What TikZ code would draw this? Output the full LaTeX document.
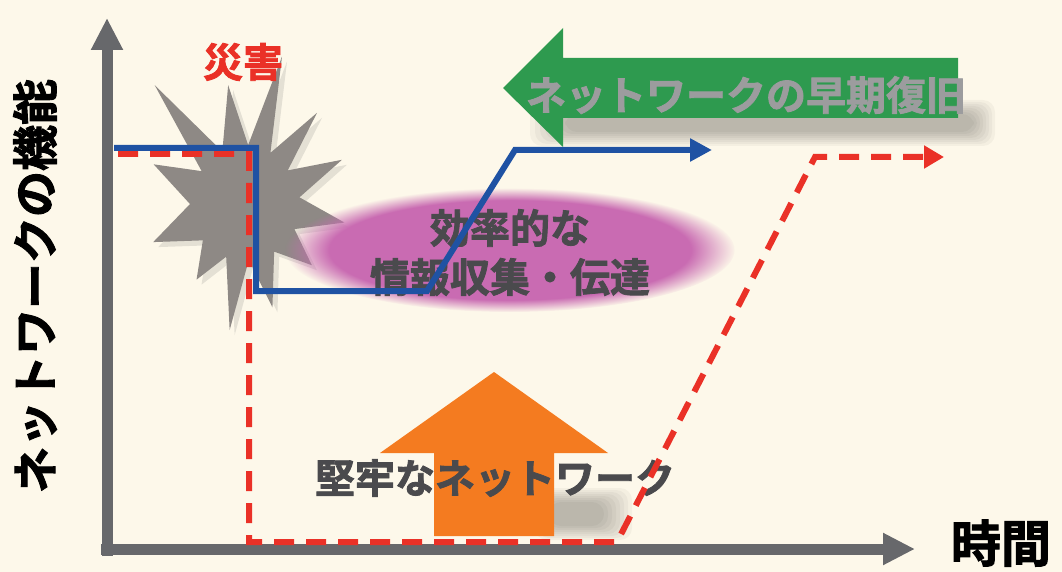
\documentclass[tikz,border=0pt]{standalone}
\usepackage{fontspec}
\newfontfamily\jp{Noto Sans CJK JP}[BoldFont=* Bold,BoldFeatures={FakeBold=2}]
\usepackage{tikz}
\usetikzlibrary{arrows.meta,positioning,calc,fadings,shadows}

\definecolor{paper}{HTML}{FDF8EA}
\definecolor{axisgray}{HTML}{67686B}
\definecolor{lineblue}{HTML}{1F52A3}
\definecolor{dashred}{HTML}{EA3127}
\definecolor{leafgreen}{HTML}{2E9A4F}
\definecolor{boltorange}{HTML}{F47B20}
\definecolor{bubblepink}{HTML}{C96BB2}
\definecolor{inkgray}{HTML}{4A4A4D}
\definecolor{stargray}{HTML}{8E8985}
\definecolor{labelgray}{HTML}{9C9C9E}

\begin{document}
\begin{tikzpicture}[x=1pt,y=-1pt,
  axis/.style={draw=axisgray,line width=11pt,-{Triangle[width=30pt,length=32pt]}},
  fast/.style={draw=lineblue,line width=6pt,-{Triangle[width=22pt,length=22pt]}},
  slow/.style={draw=dashred,line width=6pt,dash pattern=on 20pt off 12pt,-{Triangle[width=22pt,length=20pt]}},
  big/.style={font=\jp\bfseries\fontsize{40}{40}\selectfont,inner sep=0pt},
  ink/.style={big,text=inkgray},
  soft/.style={fill=black,opacity=.035,rounded corners=12pt}]
\useasboundingbox (0,0) rectangle (1062,572);
\fill[paper] (0,0) rectangle (1062,572);

% burst behind the drop
\coordinate (c) at (245,205);
\fill[stargray,drop shadow={shadow xshift=5pt,shadow yshift=-5pt,opacity=.2}]
  ($(c)+(10:101)$) -- ($(c)+(26:55)$) -- ($(c)+(42:90)$) -- ($(c)+(58:55)$)
  -- ($(c)+(75:106)$) -- ($(c)+(86:55)$) -- ($(c)+(97:126)$) -- ($(c)+(110:55)$)
  -- ($(c)+(123:89)$) -- ($(c)+(140:55)$) -- ($(c)+(158:99)$) -- ($(c)+(181:55)$)
  -- ($(c)+(204:100)$) -- ($(c)+(218:55)$) -- ($(c)+(233:150)$) -- ($(c)+(247:58)$)
  -- ($(c)+(262:121)$) -- ($(c)+(273:60)$) -- ($(c)+(284:153)$) -- ($(c)+(296:58)$)
  -- ($(c)+(308:117)$) -- ($(c)+(321:55)$) -- ($(c)+(335:107)$) -- ($(c)+(352:55)$) -- cycle;

% info bubble
\fill[bubblepink,path fading=circle with fuzzy edge 20 percent]
  (510,250) ellipse [x radius=225,y radius=62];
\node[ink] (infoA) at (510,228) {効率的な};
\node[ink] (infoB) at (510,277) {情報収集・伝達};

% recovery arrow (pointing left), soft shadow under its shaft
\foreach \k in {0,...,7}
  \fill[soft] (530+5*\k,100+2*\k) rectangle (995-3*\k,146-2*\k);
\fill[leafgreen] (503,88) -- (563,28) -- (563,58) -- (958,58)
  -- (958,118) -- (563,118) -- (563,147) -- cycle;
\node[big,text=labelgray] (recov) at (746,95) {ネットワークの早期復旧};

% robustness arrow (pointing up)
\foreach \k in {0,...,7}
  \fill[soft] (535+2*\k,488+2*\k) rectangle (632-4*\k,540-2*\k);
\fill[boltorange]
  (494,372) -- (608,453) -- (554,453) -- (554,536) -- (434,536) -- (434,453) -- (380,453) -- cycle;
\node[ink] (robust) at (495,478) {堅牢なネットワーク};

% axes
\coordinate (o) at (101,549);
\coordinate (ytop) at (107,18);
\coordinate (xend) at (915,549);
\draw[axis] (107,556) -- (ytop);
\draw[axis] (o) -- (xend);
\node[big,text=black,font=\jp\bfseries\fontsize{46}{46}\selectfont,rotate=90] (ylab) at (35,286) {ネットワークの機能};
\node[big,text=black,font=\jp\bfseries\fontsize{50}{50}\selectfont] (xlab) at (1001,543) {時間};

% disaster label
\node[big,text=dashred] (hit) at (243,62) {災害};

% function curves
\coordinate (s0) at (118,154);
\coordinate (s1) at (249,154);
\coordinate (s2) at (249,542);
\coordinate (s3) at (617,542);
\coordinate (s4) at (815,157);
\coordinate (s5) at (944,157);
\draw[slow] (s0) -- (s1) -- (s2) -- (s3) -- (s4) -- (s5);

\coordinate (b0) at (114,148);
\coordinate (b1) at (256,148);
\coordinate (b2) at (256,291);
\coordinate (b3) at (427,291);
\coordinate (b4) at (515,150);
\coordinate (b5) at (712,150);
\draw[fast] (b0) -- (b1) -- (b2) -- (b3) -- (b4) -- (b5);
\end{tikzpicture}
\end{document}
